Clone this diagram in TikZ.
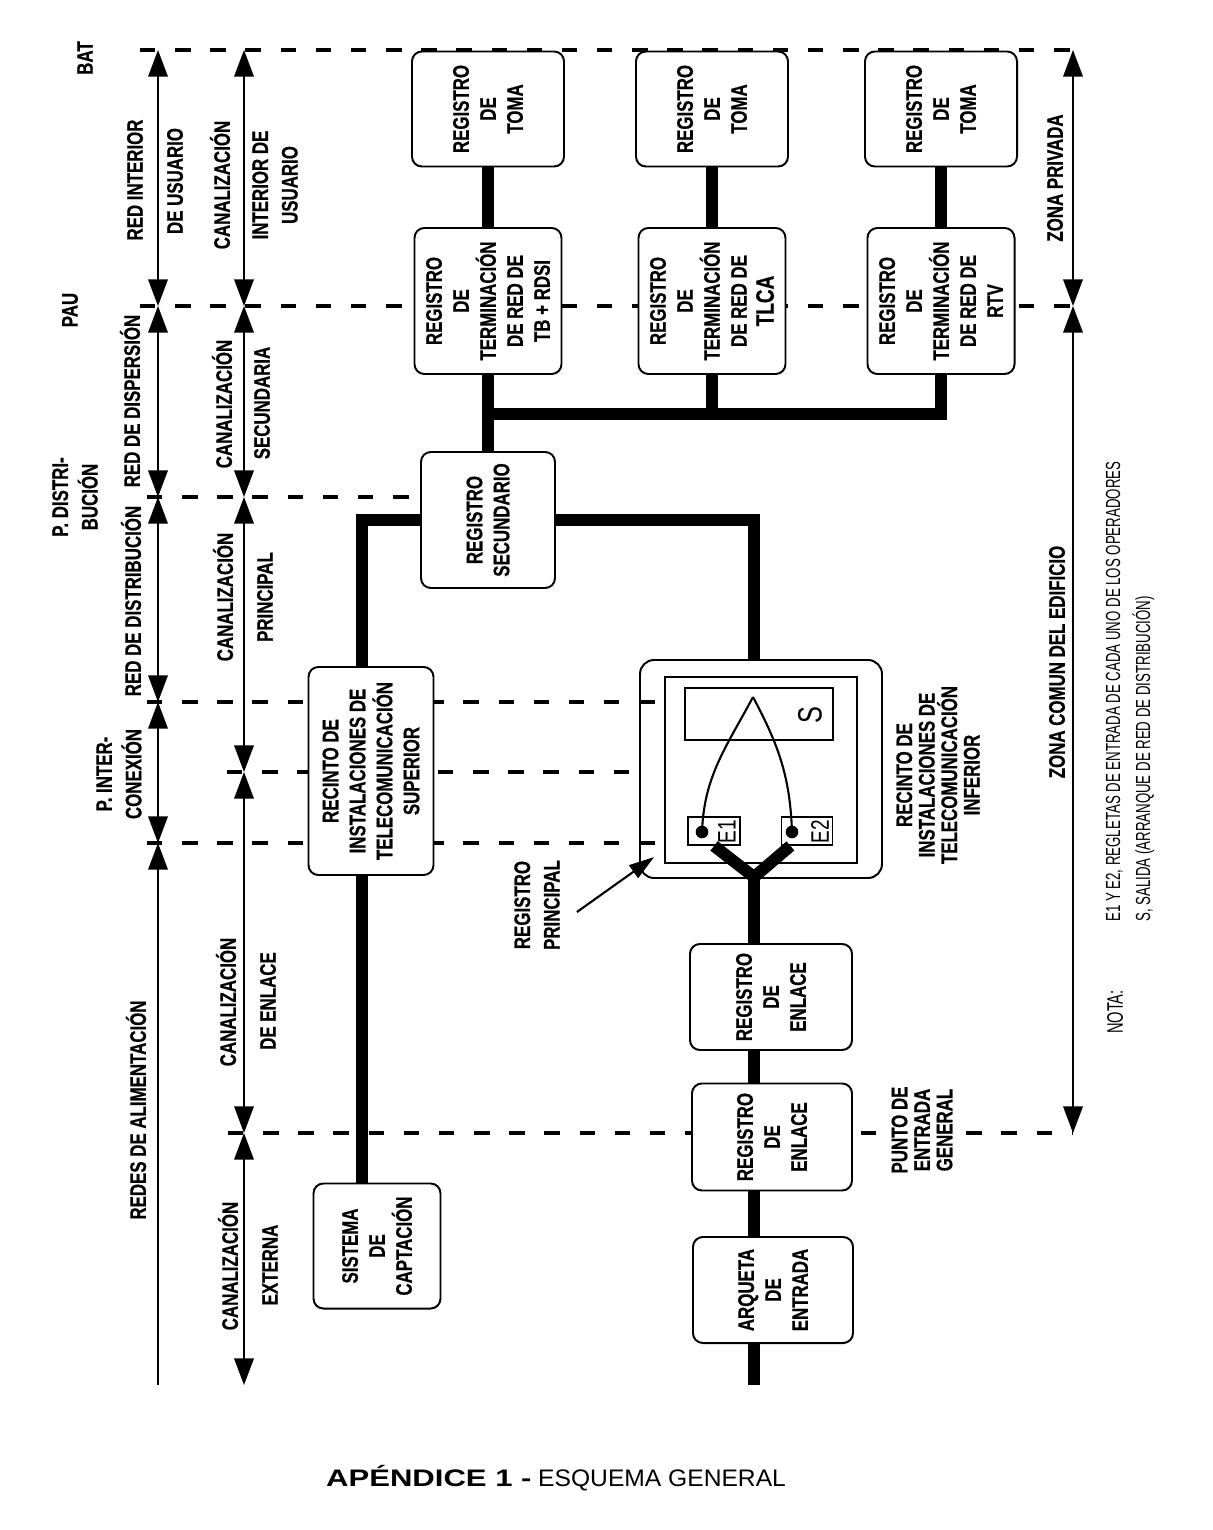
\documentclass[tikz,border=0pt]{standalone}
\usepackage{fontspec}
\setmainfont{Liberation Sans}
\newfontfamily\labfont[FakeStretch=0.75, BoldFeatures={FakeBold=0.6}]{Liberation Sans}
\newfontfamily\notefont[FakeStretch=0.65]{Liberation Sans}
\newfontfamily\titbfont[FakeStretch=1.3]{Liberation Sans}
\newfontfamily\titrfont[FakeStretch=1.03]{Liberation Sans}
\usetikzlibrary{arrows.meta}
\tikzset{
  lbl/.style={font=\labfont\bfseries\fontsize{16}{19}\selectfont, rotate=90, inner sep=0pt, align=center},
  lblwide/.style={lbl, font=\labfont\bfseries\fontsize{16}{21}\selectfont},
  lbltight/.style={lbl, font=\labfont\bfseries\fontsize{16}{16}\selectfont},
  regbox/.style 2 args={draw, line width=1.4pt, rounded corners=7pt, fill=white, rotate=90, align=center, inner sep=0pt,
    font=\labfont\bfseries\fontsize{16}{19.2}\selectfont, minimum width=#2*0.025cm, minimum height=#1*0.025cm},
  pxsize/.style 2 args={minimum width=#1*0.025cm, minimum height=#2*0.025cm},
  frame/.style={draw, line width=1.3pt, inner sep=0pt},
  cable/.style={line width=8.5pt},
  wire/.style={line width=1.5pt},
  dot/.style={circle, fill, inner sep=0pt, minimum size=9pt},
  elbl/.style={rotate=90, font=\labfont\fontsize{18}{18}\selectfont, inner sep=0pt},
  dashline/.style={line width=2.6pt, dash pattern=on 11pt off 14pt},
  dimline/.style={line width=1.1pt, >={Triangle[length=19pt,width=14pt]}, <->},
  pointer/.style={line width=1.5pt, -{Triangle[length=18pt,width=11pt]}},
  note/.style={font=\notefont\fontsize{14.5}{21.3}\selectfont, rotate=90, inner sep=0pt, align=left},
}
\begin{document}
\begin{tikzpicture}[x=0.025cm,y=-0.025cm]
\useasboundingbox (0,0) rectangle (1212,1530);
\pgfmathsetmacro{\ybat}{50}
\pgfmathsetmacro{\ypau}{306}
\pgfmathsetmacro{\ydis}{497}
\pgfmathsetmacro{\yinta}{702}
\pgfmathsetmacro{\yintb}{772}
\pgfmathsetmacro{\yintc}{843}
\pgfmathsetmacro{\yent}{1133}
\pgfmathsetmacro{\yend}{1385}
\pgfmathsetmacro{\xa}{158}
\pgfmathsetmacro{\xb}{244}
\pgfmathsetmacro{\xc}{1073}
\node[frame, line width=1.4pt, rounded corners=10pt, pxsize={242}{218}] (riti) at (761,769) {};
\node[frame, pxsize={192}{186}] (ritiin) at (761,770) {};
\node[frame, pxsize={148}{52}] (sal) at (759,714) {};
\node[rotate=90, font=\labfont\fontsize{24}{24}\selectfont, inner sep=0pt] (slbl) at (810,715) {S};
\node[frame, pxsize={52}{28}] (e1) at (714,831) {};
\node[frame, pxsize={51}{28}] (e2) at (807,831) {};
\node[dot] (d1) at (702,832) {};
\node[dot] (d2) at (792,832) {};
\node[elbl] (e1lbl) at (727,832) {E1};
\node[elbl] (e2lbl) at (820,832) {E2};
\coordinate (apex) at (753,697);
\draw[wire] (d1.center) to[out=88, in=-118] (apex);
\draw[wire] (d2.center) to[out=92, in=-62] (apex);
\draw[dashline] (140,\ybat) -- (\xc,\ybat) (140,\ypau) -- (\xc,\ypau) (147,\ydis) -- (423,\ydis);
\draw[dashline] (147,\yinta) -- (665,\yinta) (227,\yintb) -- (632,\yintb) (147,\yintc) -- (665,\yintc) (228,\yent) -- (\xc,\yent);
\foreach \ya/\yb in {\ybat/\ypau,\ypau/\ydis,\ydis/\yinta,\yinta/\yintc}{\draw[dimline] (\xa,\ya) -- (\xa,\yb);}
\draw[dimline, <-] (\xa,\yintc) -- (\xa,\yend);
\foreach \ya/\yb in {\ybat/\ypau,\ypau/\ydis,\ydis/\yintb,\yintb/\yent,\yent/\yend}{\draw[dimline] (\xb,\ya) -- (\xb,\yb);}
\draw[dimline] (\xc,\ybat) -- (\xc,\ypau);
\draw[dimline] (\xc,\ypau) -- (\xc,\yent);
\coordinate (bus) at (488,414);
\coordinate (upx) at (362,0);
\coordinate (trunk) at (754,0);
\coordinate (fork) at (754,877);
\coordinate (bottom) at (754,\yend);
\foreach \i/\x in {1/488,2/712,3/941}{\node[regbox={152}{115}] (toma\i) at (\x,109) {REGISTRO\\DE\\TOMA};}
\foreach \i/\x/\txt in {1/488/{TB + RDSI},2/712/{\fontsize{18}{19}\selectfont TLCA},3/941/RTV}{\node[regbox={147}{146}] (term\i) at (\x,301) {REGISTRO\\DE\\TERMINACIÓN\\DE RED DE\\\txt};}
\node[regbox={134}{136}] (sec) at (488,520) {REGISTRO\\SECUNDARIO};
\node[regbox={125}{208}] (rits) at (371,771) {RECINTO DE\\INSTALACIONES DE\\TELECOMUNICACIÓN\\SUPERIOR};
\node[regbox={127}{125}] (sis) at (377,1246) {SISTEMA\\DE\\CAPTACIÓN};
\node[regbox={162}{106}] (enl1) at (771,997) {REGISTRO\\DE\\ENLACE};
\node[regbox={160}{107}] (enl2) at (772,1137) {REGISTRO\\DE\\ENLACE};
\node[regbox={160}{106}] (arq) at (773,1290) {ARQUETA\\DE\\ENTRADA};
\foreach \i in {1,2,3}{\draw[cable] (toma\i.west) -- (term\i.east);}
\draw[cable] (term1.west) -- (sec.east);
\draw[cable] (term2.west) -- (term2.west |- bus);
\draw[cable] (term3.west) |- (bus);
\draw[cable] (sec.north) -| (upx |- rits.east);
\draw[cable] (sec.south) -| (trunk |- riti.north);
\draw[cable] (upx |- rits.west) -- (upx |- sis.east);
\draw[cable] (e1.south) -- (fork) -- ([xshift=7pt]e2.south west);
\draw[cable] (fork) -- (trunk |- enl1.east);
\draw[cable] (trunk |- enl1.west) -- (trunk |- enl2.east);
\draw[cable] (trunk |- enl2.west) -- (trunk |- arq.east);
\draw[cable] (trunk |- arq.west) -- (bottom);
\node[lbl] (bat) at (85,58) {BAT};
\node[lbl] (pau) at (70,310) {PAU};
\node[lblwide] (pdis) at (75,497) {P. DISTRI-\\BUCIÓN};
\node[lblwide] (pint) at (119,774) {P. INTER-\\CONEXIÓN};
\node[lbl] (redint) at (135,180) {RED INTERIOR};
\node[lbl] (redusu) at (175,181) {DE USUARIO};
\node[lbl] (canint) at (220,185) {CANALIZACIÓN};
\node[lblwide] (intusu) at (275,185) {INTERIOR DE\\USUARIO};
\node[lbl] (reddisp) at (130,401) {RED DE DISPERSIÓN};
\node[lbl] (cansec) at (222,404) {CANALIZACIÓN};
\node[lbl] (secund) at (262,403) {SECUNDARIA};
\node[lbl] (reddist) at (131,601) {RED DE DISTRIBUCIÓN};
\node[lbl] (canpri) at (223,597) {CANALIZACIÓN};
\node[lbl] (princ) at (265,597) {PRINCIPAL};
\node[lbl] (redali) at (136,1110) {REDES DE ALIMENTACIÓN};
\node[lbl] (canenl) at (226,1002) {CANALIZACIÓN};
\node[lbl] (deenl) at (268,1001) {DE ENLACE};
\node[lbl] (canext) at (228,1266) {CANALIZACIÓN};
\node[lbl] (extern) at (270,1265) {EXTERNA};
\node[lbl] (zonapriv) at (1055,178) {ZONA PRIVADA};
\node[lbl] (zonacom) at (1057,662) {ZONA COMUN DEL EDIFICIO};
\node[lblwide] (regprin) at (537,905) {REGISTRO\\PRINCIPAL};
\node[lbltight] (ritilbl) at (938,775) {RECINTO DE\\INSTALACIONES DE\\TELECOMUNICACIÓN\\INFERIOR};
\node[lbltight, fill=white, inner sep=2pt] (punto) at (922,1130) {PUNTO DE\\ENTRADA\\GENERAL};
\draw[pointer] ([shift={(12pt,-5pt)}]regprin.south) -- ([shift={(10.7pt,15.6pt)}]riti.south west);
\node[note, font=\notefont\fontsize{16}{18}\selectfont] (nota) at (1115,1012) {NOTA:};
\node[note, anchor=west] (notatxt) at (1130,922) {E1 Y E2, REGLETAS DE ENTRADA DE CADA UNO DE LOS OPERADORES\\S, SALIDA (ARRANQUE DE RED DE DISTRIBUCIÓN)};
\node[font=\fontsize{17}{18}\selectfont, inner sep=0pt] (titulo) at (556,1478) {{\titbfont\bfseries APÉNDICE 1 -} {\titrfont ESQUEMA GENERAL}};
\end{tikzpicture}
\end{document}
